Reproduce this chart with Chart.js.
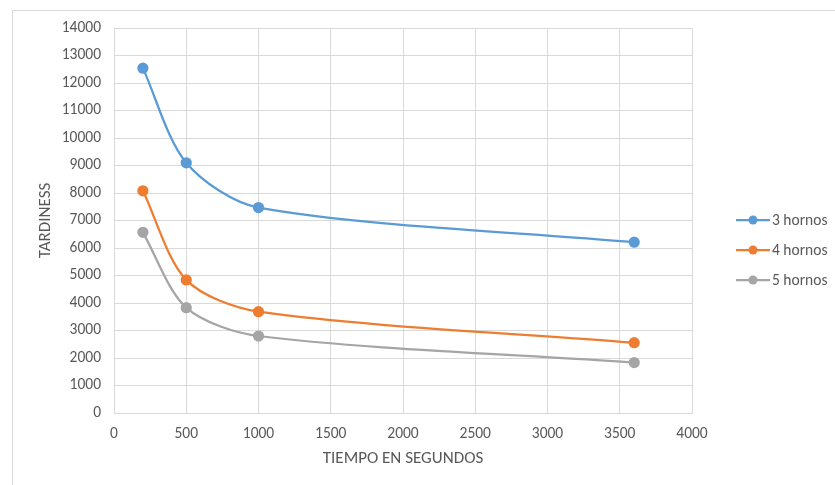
<!DOCTYPE html>
<html lang="es">
<head>
  <meta charset="UTF-8">
  <title>Tardiness</title>
  <script src="https://cdn.jsdelivr.net/npm/chart.js"></script>
  <style>
    body {
      margin: 0;
      background: #fff;
    }
    #frame {
      position: absolute;
      left: 12px;
      top: 10px;
      width: 900px;
      height: 500px;
      border: 1px solid #d9d9d9;
    }
    #wrap {
      position: absolute;
      left: 0;
      top: 0;
      width: 835px;
      height: 485px;
    }
  </style>
</head>
<body>

<div id="frame"></div>
<div id="wrap">
  <canvas id="chart" width="835" height="485"></canvas>
</div>

<script>
  const seconds = [200, 500, 1000, 3600];
  const hornos3 = [12540, 9100, 7470, 6210];
  const hornos4 = [8080, 4840, 3685, 2555];
  const hornos5 = [6570, 3830, 2800, 1835];
  const seriesNames = ['3 hornos', '4 hornos', '5 hornos'];
  const seriesColors = ['#5B9BD5', '#ED7D31', '#A5A5A5'];

  const textColor = '#595959';
  const gridColor = '#d9d9d9';
  const fontFamily = "Carlito, 'Liberation Sans', sans-serif";

  function toPoints(values) {
    return seconds.map((s, i) => ({ x: s, y: values[i] }));
  }

  const datasets = [hornos3, hornos4, hornos5].map((vals, i) => ({
    label: seriesNames[i],
    data: toPoints(vals),
    borderColor: seriesColors[i],
    backgroundColor: seriesColors[i],
    borderWidth: 2.25,
    pointRadius: 4.5,
    pointHoverRadius: 4.5,
    tension: 0.3
  }));

  // legend like Excel: short line with a marker, then the name
  const sideLegend = {
    id: 'sideLegend',
    afterDraw(chart) {
      const ctx = chart.ctx;
      const x0 = 736, len = 34, y0 = 220, step = 30;
      ctx.save();
      chart.data.datasets.forEach((ds, i) => {
        const y = y0 + i * step;
        ctx.strokeStyle = ds.borderColor;
        ctx.lineWidth = 2.25;
        ctx.beginPath();
        ctx.moveTo(x0, y);
        ctx.lineTo(x0 + len, y);
        ctx.stroke();
        ctx.fillStyle = ds.backgroundColor;
        ctx.beginPath();
        ctx.arc(x0 + len / 2, y, 4.5, 0, Math.PI * 2);
        ctx.fill();
        ctx.fillStyle = textColor;
        ctx.font = '15.5px ' + fontFamily;
        ctx.textBaseline = 'middle';
        ctx.fillText(ds.label, x0 + len + 2, y + 1);
      });
      ctx.restore();
    }
  };

  const ctx = document.getElementById('chart').getContext('2d');
  const chart = new Chart(ctx, {
    type: 'line',
    data: { datasets: datasets },
    plugins: [sideLegend],
    options: {
      responsive: false,
      animation: false,
      events: [],
      layout: {
        padding: { left: 32, top: 28, right: 143, bottom: 12 }
      },
      plugins: {
        legend: { display: false },
        tooltip: { enabled: false }
      },
      scales: {
        x: {
          type: 'linear',
          min: 0,
          max: 4000,
          ticks: {
            stepSize: 500,
            color: textColor,
            padding: 12,
            maxRotation: 0,
            font: { family: fontFamily, size: 15.5 },
            callback: v => String(v)
          },
          grid: { color: gridColor, drawTicks: false },
          border: { color: gridColor },
          title: {
            display: true,
            text: 'TIEMPO EN SEGUNDOS',
            color: textColor,
            font: { family: fontFamily, size: 17 }
          },
          afterFit(scale) { scale.height = 485 - 12 - 413; }
        },
        y: {
          min: 0,
          max: 14000,
          ticks: {
            stepSize: 1000,
            color: textColor,
            padding: 13,
            font: { family: fontFamily, size: 15.5 },
            callback: v => String(v)
          },
          grid: { color: gridColor, drawTicks: false },
          border: { color: gridColor },
          title: {
            display: true,
            text: 'TARDINESS',
            color: textColor,
            font: { family: fontFamily, size: 17 }
          },
          afterFit(scale) { scale.width = 114 - 32; }
        }
      }
    }
  });
</script>
</body>
</html>
